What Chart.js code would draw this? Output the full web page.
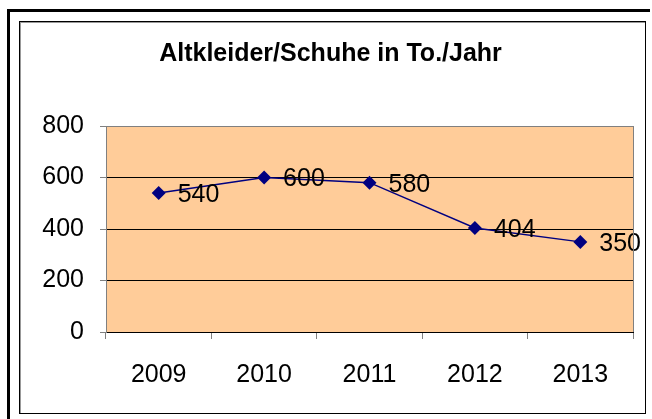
<!DOCTYPE html>
<html>
<head>
<meta charset="utf-8">
<script src="https://cdn.jsdelivr.net/npm/chart.js@4.4.0/dist/chart.umd.min.js"></script>
<style>
    body { margin: 0; background: #fff; }
    .wrap { position: relative; width: 652px; height: 419px; overflow: hidden; }
    .outer { position: absolute; left: 7px; top: 9px; width: 640px; height: 420px; border-top: 3px solid #000; border-left: 3px solid #000; }
    .inner { position: absolute; left: 19px; top: 21px; width: 625px; height: 391px; border: 1px solid #000; box-shadow: inset 1px 1px 0 #999; }
    #myChart { position: absolute; left: 0; top: 0; }
</style>
</head>
<body>
<div class="wrap">
    <div class="outer"></div>
    <div class="inner"></div>
    <canvas id="myChart" width="652" height="419"></canvas>
</div>
<script>
let years = ['2009', '2010', '2011', '2012', '2013'];
let tonnes = [540, 600, 580, 404, 350];
let yTicks = [0, 200, 400, 600, 800];
let title = 'Altkleider/Schuhe in To./Jahr';

let fontFamily = '"Liberation Sans", Arial, sans-serif';

// orange plot area + right edge
let plotBg = {
    id: 'plotBg',
    beforeDraw: chart => {
        let a = chart.chartArea;
        let ctx = chart.ctx;
        ctx.save();
        ctx.fillStyle = '#FFCC99';
        ctx.fillRect(a.left, a.top, a.right - a.left, a.bottom - a.top);
        ctx.restore();
    },
    afterDraw: chart => {
        let a = chart.chartArea;
        let ctx = chart.ctx;
        ctx.save();
        ctx.strokeStyle = '#808080';
        ctx.lineWidth = 1;
        ctx.beginPath();
        ctx.moveTo(Math.round(a.right) + 0.5, a.top);
        ctx.lineTo(Math.round(a.right) + 0.5, a.bottom);
        ctx.stroke();
        ctx.restore();
    }
};

// value labels right of each point
let valueLabels = {
    id: 'valueLabels',
    afterDatasetsDraw: chart => {
        let ctx = chart.ctx;
        let meta = chart.getDatasetMeta(0);
        ctx.save();
        ctx.font = '25px ' + fontFamily;
        ctx.fillStyle = '#000';
        ctx.textAlign = 'left';
        ctx.textBaseline = 'middle';
        meta.data.forEach((pt, i) => {
            ctx.fillText(tonnes[i], pt.x + 19, pt.y + 2);
        });
        ctx.restore();
    }
};

const config = {
    type: 'line',
    data: {
        labels: years,
        datasets: [{
            data: tonnes,
            borderColor: '#000080',
            borderWidth: 1.5,
            backgroundColor: '#000080',
            pointStyle: 'rectRot',
            pointRadius: 7,
            pointBorderWidth: 0,
            pointBackgroundColor: '#000080',
            tension: 0
        }]
    },
    options: {
        responsive: false,
        animation: false,
        devicePixelRatio: 1,
        layout: { padding: { left: 28, right: 19, top: 0, bottom: 0 } },
        plugins: {
            legend: { display: false },
            tooltip: { enabled: false },
            title: {
                display: true,
                text: title,
                color: '#000',
                font: { family: fontFamily, size: 25, weight: 'bold', lineHeight: 1.2 },
                padding: { top: 39, bottom: 57 }
            }
        },
        scales: {
            x: {
                offset: true,
                grid: { offset: true, drawOnChartArea: false, tickLength: 7, color: '#808080' },
                border: { color: '#000' },
                ticks: { color: '#000', padding: 21, font: { family: fontFamily, size: 25 } },
                afterFit: scale => { scale.height = 87; }
            },
            y: {
                min: 0,
                max: 800,
                afterBuildTicks: scale => { scale.ticks = yTicks.map(v => ({ value: v })); },
                grid: {
                    tickLength: 6,
                    color: ctx => ctx.tick && ctx.tick.value === 800 ? '#808080' : '#000',
                    tickColor: '#808080'
                },
                border: { color: '#808080' },
                ticks: { color: '#000', padding: 16, font: { family: fontFamily, size: 25 } },
                afterFit: scale => { scale.width = 78; }
            }
        }
    },
    plugins: [plotBg, valueLabels]
};

let myChart = new Chart(document.getElementById('myChart'), config);
</script>
</body>
</html>
